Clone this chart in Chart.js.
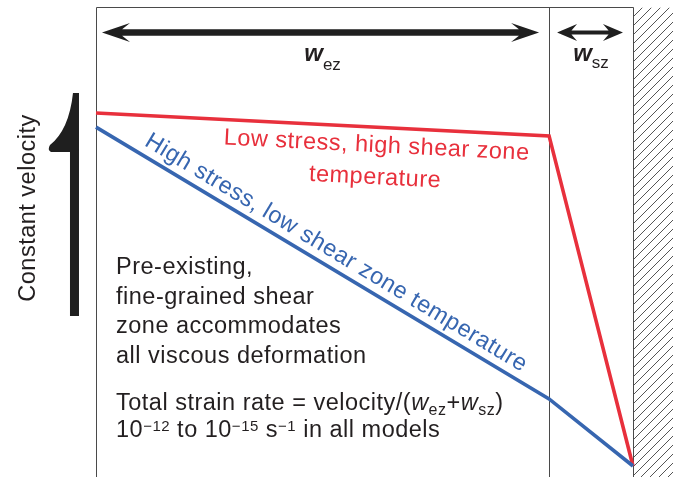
<!DOCTYPE html>
<html>
<head>
<meta charset="utf-8">
<script src="https://cdn.jsdelivr.net/npm/chart.js@4/dist/chart.umd.min.js"></script>
<style>
  html, body { margin: 0; padding: 0; background: #fff; }
  canvas { display: block; }
</style>
</head>
<body>
<canvas id="c" width="673" height="477"></canvas>
<script>
// Positions across the deforming zone, in units of the shear-zone width w_sz:
// outer (moving) edge, edge of the shear zone, fixed wall
const boundaries = [0, 5.4, 6.4];
const zoneSubscripts = ['ez', 'sz'];

// Velocity profiles, as a fraction of the imposed boundary velocity
const lowStressProfile = [1.0, 0.935, 0];
const highStressProfile = [0.96, 0.19, 0];

const lowStressLabel = ['Low stress, high shear zone', 'temperature'];
const highStressLabel = 'High stress, low shear zone temperature';
const velocityLabel = 'Constant velocity';
const shearZoneNote = ['Pre-existing,', 'fine-grained shear', 'zone accommodates', 'all viscous deformation'];

const RED = '#e8303c';
const BLUE = '#3766b0';
const INK = '#231f20';
const FRAME = '#4a4a4a';
const FONT = "'Liberation Sans', Arial, Helvetica, sans-serif";
const FRAME_TOP = 1.299; // top edge of the frame, in velocity units
const BODY_SIZE = 23.5;
const BODY_SPACING = 0.5;

function setSpacing(ctx, px) {
  if ('letterSpacing' in ctx) ctx.letterSpacing = px + 'px';
}

// Draw a sequence of text runs (text, font, vertical shift) on one baseline
function drawRuns(ctx, parts, x, y, align) {
  const widths = parts.map(p => { ctx.font = p[1]; return ctx.measureText(p[0]).width; });
  const total = widths.reduce((a, b) => a + b, 0);
  let cx = align === 'center' ? x - total / 2 : x;
  ctx.textAlign = 'left';
  parts.forEach((p, i) => {
    ctx.font = p[1];
    ctx.fillText(p[0], cx, y + (p[2] || 0));
    cx += widths[i];
  });
}

// Double-headed horizontal arrow
function doubleArrow(ctx, xl, xr, y, L, h, s) {
  const n = 0.72;
  ctx.beginPath();
  ctx.moveTo(xl, y);
  ctx.lineTo(xl + L, y - h);
  ctx.lineTo(xl + L * n, y - s / 2);
  ctx.lineTo(xr - L * n, y - s / 2);
  ctx.lineTo(xr - L, y - h);
  ctx.lineTo(xr, y);
  ctx.lineTo(xr - L, y + h);
  ctx.lineTo(xr - L * n, y + s / 2);
  ctx.lineTo(xl + L * n, y + s / 2);
  ctx.lineTo(xl + L, y + h);
  ctx.closePath();
  ctx.fill();
}

const schematic = {
  id: 'schematic',
  beforeDatasetsDraw(chart) {
    const ctx = chart.ctx;
    const X = v => chart.scales.x.getPixelForValue(v);
    const Y = v => chart.scales.y.getPixelForValue(v);
    const top = Math.round(Y(FRAME_TOP)) + 0.5;
    const bottom = chart.height;
    const xs = boundaries.map(b => Math.round(X(b)) + 0.5);
    const wall = xs[2];

    ctx.save();
    // hatched fixed wall
    ctx.beginPath();
    ctx.rect(wall, top, chart.width - wall, bottom - top);
    ctx.clip();
    ctx.strokeStyle = '#555';
    ctx.lineWidth = 1;
    ctx.beginPath();
    const span = bottom - top;
    for (let k = -span; k < chart.width - wall + 10; k += 9) {
      ctx.moveTo(wall + k, bottom);
      ctx.lineTo(wall + k + span, top);
    }
    ctx.stroke();
    ctx.restore();

    // frame
    ctx.save();
    ctx.strokeStyle = FRAME;
    ctx.lineWidth = 1;
    ctx.beginPath();
    ctx.moveTo(xs[0], top);
    ctx.lineTo(xs[2], top);
    xs.forEach(x => { ctx.moveTo(x, top); ctx.lineTo(x, bottom); });
    ctx.stroke();
    ctx.restore();
  },
  afterDatasetsDraw(chart) {
    const ctx = chart.ctx;
    const X = v => chart.scales.x.getPixelForValue(v);
    const Y = v => chart.scales.y.getPixelForValue(v);
    const top = Y(FRAME_TOP);
    const x0 = X(boundaries[0]), x1 = X(boundaries[1]), x2 = X(boundaries[2]);

    ctx.save();
    ctx.fillStyle = '#1f1f1f';
    // width arrows
    const ay = top + 25;
    doubleArrow(ctx, x0 + 6, x1 - 10, ay, 28, 9.5, 6.5);
    doubleArrow(ctx, x1 + 8, x2 - 10, ay, 20, 8.5, 4);

    // zone width symbols
    ctx.fillStyle = INK;
    ctx.textBaseline = 'alphabetic';
    setSpacing(ctx, 0);
    drawRuns(ctx, [['w', 'italic bold 24px ' + FONT, 0], [zoneSubscripts[0], '17px ' + FONT, 9]], (x0 + x1) / 2, top + 54, 'center');
    drawRuns(ctx, [['w', 'italic bold 24px ' + FONT, 0], [zoneSubscripts[1], '17px ' + FONT, 7]], (x1 + x2) / 2, top + 54, 'center');

    // constant-velocity half arrow on the moving edge
    ctx.fillStyle = '#1f1f1f';
    ctx.beginPath();
    ctx.moveTo(x0 - 17, 93);
    ctx.lineTo(x0 - 17, 316);
    ctx.lineTo(x0 - 26, 316);
    ctx.lineTo(x0 - 26, 152);
    ctx.lineTo(x0 - 45, 152);
    ctx.quadraticCurveTo(x0 - 49, 150, x0 - 46, 145);
    ctx.quadraticCurveTo(x0 - 27, 130, x0 - 23, 93);
    ctx.closePath();
    ctx.fill();

    const reg = BODY_SIZE + 'px ' + FONT, ital = 'italic ' + BODY_SIZE + 'px ' + FONT;
    ctx.fillStyle = INK;
    setSpacing(ctx, BODY_SPACING);
    ctx.save();
    ctx.translate(35, 208);
    ctx.rotate(-Math.PI / 2);
    ctx.font = reg;
    ctx.textAlign = 'center';
    ctx.fillText(velocityLabel, 0, 0);
    ctx.restore();

    // note on the shear zone
    ctx.font = reg;
    ctx.textAlign = 'left';
    shearZoneNote.forEach((t, i) => ctx.fillText(t, x0 + 20, 274 + i * 29.7));

    const sub = '16px ' + FONT, sup = '15px ' + FONT;
    drawRuns(ctx, [
      ['Total strain rate = velocity/(', reg, 0], ['w', ital, 0], [zoneSubscripts[0], sub, 5],
      ['+', reg, 0], ['w', ital, 0], [zoneSubscripts[1], sub, 5], [')', reg, 0]
    ], x0 + 20, 410, 'left');
    drawRuns(ctx, [
      ['10', reg, 0], ['\u221212', sup, -6], [' to 10', reg, 0], ['\u221215', sup, -6],
      [' s', reg, 0], ['\u22121', sup, -6], [' in all models', reg, 0]
    ], x0 + 20, 437, 'left');

    // curve labels, set along their lines
    const lbl = (dsIndex, s, d) => {
      const pts = chart.getDatasetMeta(dsIndex).data;
      const a = Math.atan2(pts[1].y - pts[0].y, pts[1].x - pts[0].x);
      return {
        a,
        x: pts[0].x + s * Math.cos(a) + d * Math.sin(a),
        y: pts[0].y + s * Math.sin(a) - d * Math.cos(a)
      };
    };
    ctx.font = reg;
    const b = lbl(0, 50, 9);
    ctx.fillStyle = BLUE;
    ctx.save();
    ctx.translate(b.x, b.y);
    ctx.rotate(b.a);
    ctx.textAlign = 'left';
    ctx.fillText(highStressLabel, 0, 0);
    ctx.restore();

    ctx.fillStyle = RED;
    lowStressLabel.forEach((t, i) => {
      const r = lbl(1, 282, -(25 + i * 32));
      ctx.save();
      ctx.translate(r.x, r.y);
      ctx.rotate(r.a);
      ctx.textAlign = 'center';
      ctx.fillText(t, 0, 0);
      ctx.restore();
    });
    ctx.restore();
  }
};

const toPoints = profile => boundaries.map((x, i) => ({ x, y: profile[i] }));

const chart = new Chart(document.getElementById('c'), {
  type: 'line',
  data: {
    datasets: [
      {
        label: highStressLabel,
        data: toPoints(highStressProfile),
        borderColor: BLUE, borderWidth: 3.6,
        pointRadius: 0, tension: 0, borderJoinStyle: 'miter', fill: false
      },
      {
        label: lowStressLabel.join(' '),
        data: toPoints(lowStressProfile),
        borderColor: RED, borderWidth: 3.6,
        pointRadius: 0, tension: 0, borderJoinStyle: 'miter', fill: false
      }
    ]
  },
  options: {
    responsive: false,
    animation: false,
    devicePixelRatio: 1,
    events: [],
    layout: { padding: 0 },
    plugins: { legend: { display: false }, tooltip: { enabled: false } },
    scales: {
      x: { type: 'linear', display: false, min: -1.144, max: 6.877 },
      y: { type: 'linear', display: false, min: -0.0312, max: 1.320 }
    }
  },
  plugins: [schematic]
});
</script>
</body>
</html>
